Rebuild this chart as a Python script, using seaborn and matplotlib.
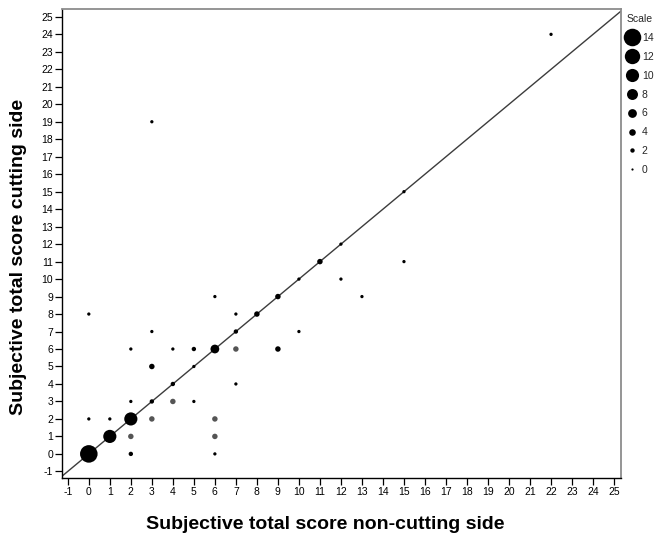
import matplotlib
matplotlib.use("Agg")
import matplotlib.pyplot as plt
from matplotlib.lines import Line2D
import seaborn as sns
import pandas as pd

# ---- data ----
non_cutting = [0, 1, 2, 0, 1, 0, 2, 2, 2, 2, 3, 3, 3, 3, 3, 4, 4, 4, 5, 5, 5,
               6, 6, 6, 6, 6, 7, 7, 7, 7, 8, 9, 9, 10, 10, 11, 12, 12, 13, 15, 15, 22]
cutting = [0, 1, 2, 2, 2, 8, 3, 6, 1, 0, 19, 7, 5, 3, 2, 6, 4, 3, 6, 5, 3,
           9, 6, 2, 1, 0, 8, 7, 6, 4, 8, 9, 6, 10, 7, 11, 12, 10, 9, 15, 11, 24]
counts = [14, 10, 10, 1, 1, 1, 1, 1, 3, 2, 1, 1, 3, 2, 3, 1, 2, 3, 2, 1, 1,
          1, 6, 3, 3, 1, 1, 2, 3, 1, 3, 3, 3, 1, 1, 3, 1, 1, 1, 1, 1, 1]
legend_levels = [14, 12, 10, 8, 6, 4, 2, 0]
ticks = list(range(-1, 26))

# ---- style ----
gray_points = {(2, 1), (3, 2), (4, 3), (6, 2), (6, 1), (7, 6)}

def diam_pt(n):
    return 1.58 + 0.79 * n

df = pd.DataFrame({"x": non_cutting, "y": cutting, "n": counts})
df["shade"] = ["gray" if (a, b) in gray_points else "black"
               for a, b in zip(df["x"], df["y"])]

sns.set_theme(style="white")
plt.rcParams["font.family"] = ["Liberation Sans", "DejaVu Sans"]
plt.rcParams["axes.unicode_minus"] = False

fig = plt.figure(figsize=(6.69, 5.36), dpi=100)
ax = fig.add_axes([61.5 / 669, 1 - 477.5 / 536, 559.5 / 669, 468.5 / 536])

size_map = {n: diam_pt(n) ** 2 for n in sorted(set(counts))}
sns.scatterplot(data=df, x="x", y="y", size="n", sizes=size_map,
                hue="shade", palette={"black": "black", "gray": "#555555"},
                edgecolor="none", linewidth=0, legend=False, ax=ax, zorder=3)

ax.axline((0, 0), slope=1, color="#3c3c3c", lw=1.0, zorder=2)

ax.set_xlim(-1.3, 25.33)
ax.set_ylim(-1.35, 25.45)
ax.set_xticks(ticks)
ax.set_yticks(ticks)
ax.tick_params(axis="both", which="both", direction="out", labelsize=7.5,
               colors="black", width=0.9, bottom=True, left=True,
               top=False, right=False)
ax.tick_params(axis="x", length=5, pad=2)
ax.tick_params(axis="y", length=5, pad=1)
ax.grid(False)

for side in ["left", "bottom"]:
    ax.spines[side].set_color("black")
    ax.spines[side].set_linewidth(1.0)
for side in ["top", "right"]:
    ax.spines[side].set_color("#8c8c8c")
    ax.spines[side].set_linewidth(1.3)

ax.set_xlabel("Subjective total score non-cutting side", fontsize=14,
              fontweight="bold", color="black")
ax.set_ylabel("Subjective total score cutting side", fontsize=14,
              fontweight="bold", color="black")
ax.xaxis.set_label_coords(0.472, -0.082)
ax.yaxis.set_label_coords(-0.062, 0.47)

handles = [Line2D([], [], linestyle="none", marker="o", markersize=diam_pt(n),
                  markerfacecolor="black", markeredgecolor="none")
           for n in legend_levels]
leg = fig.legend(handles, [str(n) for n in legend_levels], title="Scale",
                 loc="upper left", bbox_to_anchor=(624 / 669, 1 - 12 / 536),
                 frameon=False, fontsize=7.5, title_fontsize=7.5,
                 labelspacing=0.85, handlelength=1.2, handletextpad=0.3,
                 borderaxespad=0, borderpad=0.2, alignment="left")

fig.savefig("out.png", dpi=100)
